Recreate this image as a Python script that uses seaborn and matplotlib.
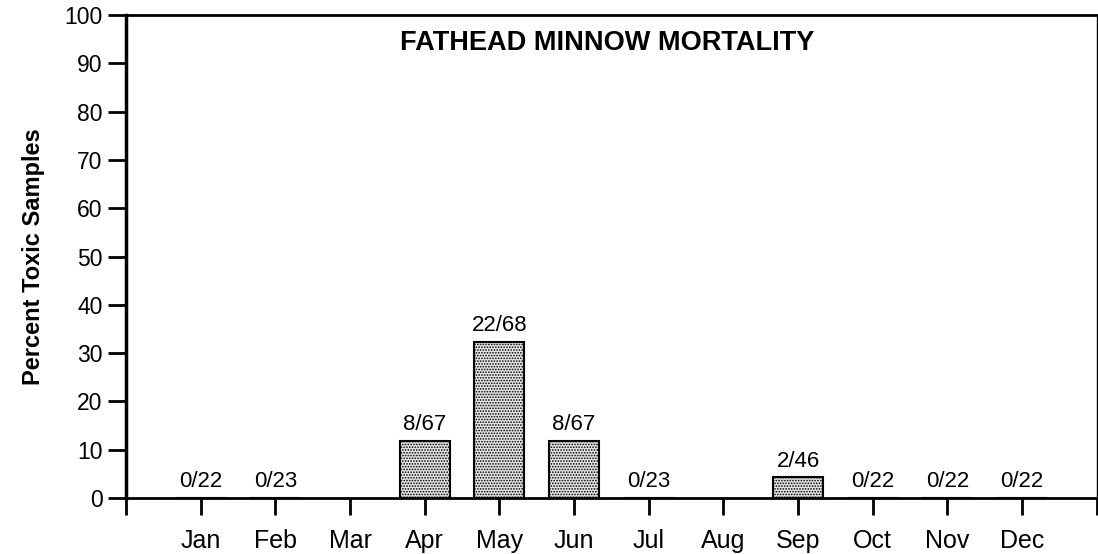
import numpy as np
import pandas as pd
import matplotlib
matplotlib.use("Agg")
import matplotlib.pyplot as plt
import seaborn as sns

# Monthly toxicity data (percent of samples toxic, NaN = no samples)
months = ["Jan", "Feb", "Mar", "Apr", "May", "Jun", "Jul", "Aug", "Sep", "Oct", "Nov", "Dec"]
pct_toxic = [0, 0, np.nan, 11.9, 32.4, 11.9, 0, np.nan, 4.3, 0, 0, 0]
ratio_labels = ["0/22", "0/23", "", "8/67", "22/68", "8/67", "0/23", "", "2/46", "0/22", "0/22", "0/22"]

df = pd.DataFrame({"month": months, "pct": pct_toxic, "label": ratio_labels})

sns.set_style("white")
plt.rcParams["font.family"] = ["Liberation Sans", "DejaVu Sans"]
plt.rcParams["text.color"] = "black"
plt.rcParams["xtick.color"] = "black"
plt.rcParams["ytick.color"] = "black"
plt.rcParams["axes.labelcolor"] = "black"
plt.rcParams["hatch.color"] = "#555555"
plt.rcParams["hatch.linewidth"] = 0.8

fig = plt.figure(figsize=(10.98, 5.54), dpi=100)
ax = fig.add_axes([0.1148, 0.101, 0.884, 0.872])

sns.barplot(data=df.dropna(), x="month", y="pct", order=months, color="#d0d0d0",
            edgecolor="black", linewidth=1.5, width=0.67, ax=ax)
for bar in ax.patches:
    bar.set_hatch("......")
    bar.set_facecolor("#e4e4e4")

# ratio labels above each month
for i, row in df.iterrows():
    if row["label"]:
        h = 0 if np.isnan(row["pct"]) else row["pct"]
        ax.annotate(row["label"], (i, h), xytext=(0, 4), textcoords="offset points",
                    ha="center", va="bottom", fontsize=16)

ax.set_xlim(-1, 12)
ax.set_ylim(0, 100)
ax.set_yticks(np.arange(0, 101, 10))
ax.set_xticks(range(12))
ax.set_xticklabels(months, fontsize=18)
ax.set_xticks([-1, 12], minor=True)
ax.tick_params(axis="y", labelsize=16.5, direction="out", length=13, width=2, left=True, pad=4)
ax.tick_params(axis="x", which="both", direction="out", length=12, width=2, bottom=True, pad=10)
ax.set_xlabel("")
ax.set_ylabel("Percent Toxic Samples", fontsize=17, fontweight="bold", labelpad=14)

for side, lw in [("left", 2.5), ("bottom", 2), ("top", 2), ("right", 1)]:
    ax.spines[side].set_visible(True)
    ax.spines[side].set_linewidth(lw)
    ax.spines[side].set_color("black")

ax.text(5.45, 94.2, "FATHEAD MINNOW MORTALITY", ha="center", va="center",
        fontsize=19.5, fontweight="bold")

fig.savefig("out.png", dpi=100)
